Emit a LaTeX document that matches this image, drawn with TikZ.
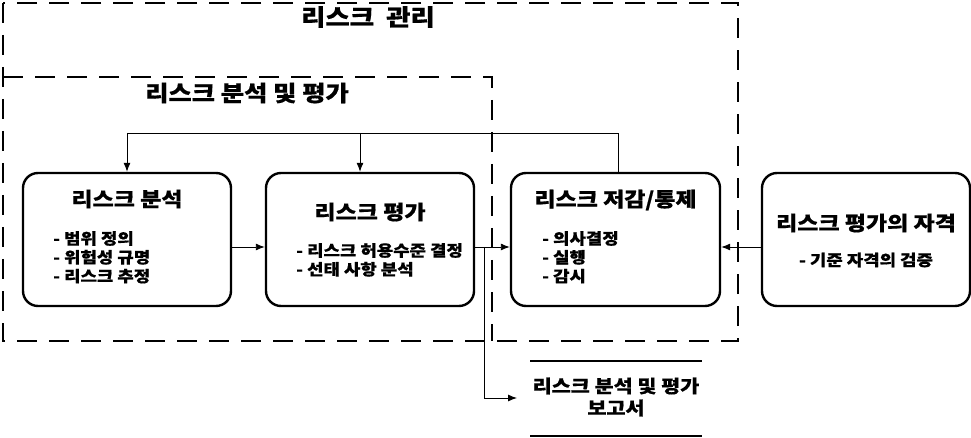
\documentclass[tikz,border=0pt]{standalone}
\usepackage{fontspec}
\setmainfont{Noto Sans CJK KR}[FakeStretch=1.15,BoldFeatures={FakeBold=0.6}]
\usetikzlibrary{arrows.meta}
\begin{document}
\begin{tikzpicture}[x=1pt,y=-1pt,
  dbox/.style={draw,line width=2.6pt,dash pattern=on 20pt off 12pt},
  pbox/.style={draw,line width=2.4pt,rounded corners=15pt,minimum width=208pt,minimum height=133pt,inner sep=0pt},
  ttl/.style={font=\fontsize{20}{22}\selectfont\bfseries,inner sep=0pt},
  itm/.style={font=\fontsize{15.5}{18.8}\selectfont\bfseries,inner sep=0pt,align=left},
  conn/.style={line width=0.9pt,-{Latex[length=9pt,width=7pt]}},
  plain/.style={line width=0.9pt}]
\useasboundingbox (0,0) rectangle (971,438);
\draw[dbox] (3,3) rectangle (738,341);
\draw[dbox] (3,77) -- (492,77) -- (492,341);
\node[font=\fontsize{23}{26}\selectfont\bfseries,inner sep=0pt] (tmgmt) at (368,17) {리스크 \ 관리};
\node[font=\fontsize{22}{26}\selectfont\bfseries,inner sep=0pt] (tana) at (247,93) {리스크 분석 및 평가};
\node[pbox] (b1) at (127,239.5) {};
\node[pbox] (b2) at (370,239.5) {};
\node[pbox,minimum width=209pt] (b3) at (615.5,239.5) {};
\node[pbox] (b4) at (866,239.5) {};
\node[ttl] (t1) at (127,199) {리스크 분석};
\node[itm,anchor=north west] (i1) at (53,231) {- 범위 정의\\- 위험성 규명\\- 리스크 추정};
\node[ttl] (t2) at (370,212) {리스크 평가};
\node[itm,anchor=north west] (i2) at (296,243) {- 리스크 허용수준 결정\\- 선태 사항 분석};
\node[ttl] (t3) at (615.5,200) {리스크 저감/통제};
\node[itm,anchor=north west] (i3) at (542,231) {- 의사결정\\- 실행\\- 감시};
\node[ttl] (t4) at (866,223) {리스크 평가의 자격};
\node[itm] (i4) at (866,260) {- 기준 자격의 검증};
% feedback
\coordinate (fb) at (618,133);
\coordinate (br) at (360,133);
\draw[plain] (b3.north -| fb) -- (fb) -- (fb -| b1.north);
\draw[conn] (fb -| b1.north) -- (b1.north);
\draw[conn] (br) -- (br |- b2.north);
% horizontal arrows
\coordinate (ay) at (0,247);
\draw[conn] (b1.east |- ay) -- (b2.west |- ay);
\draw[conn] (b2.east |- ay) -- (b3.west |- ay);
\draw[conn] (b4.west |- ay) -- (b3.east |- ay);
% report
\coordinate (rb) at (484,247);
\coordinate (rc) at (484,398);
\coordinate (rin) at (517,398);
\draw[conn] (rb) -- (rc) -- (rin);
\coordinate (l1a) at (530,361); \coordinate (l1b) at (702,361);
\coordinate (l2a) at (530,436); \coordinate (l2b) at (702,436);
\draw[line width=2.6pt] (l1a) -- (l1b);
\draw[line width=2.6pt] (l2a) -- (l2b);
\node[font=\fontsize{18}{22}\selectfont\bfseries,align=center,inner sep=0pt] (rep) at (616,397) {리스크 분석 및 평가\\보고서};
\end{tikzpicture}
\end{document}
